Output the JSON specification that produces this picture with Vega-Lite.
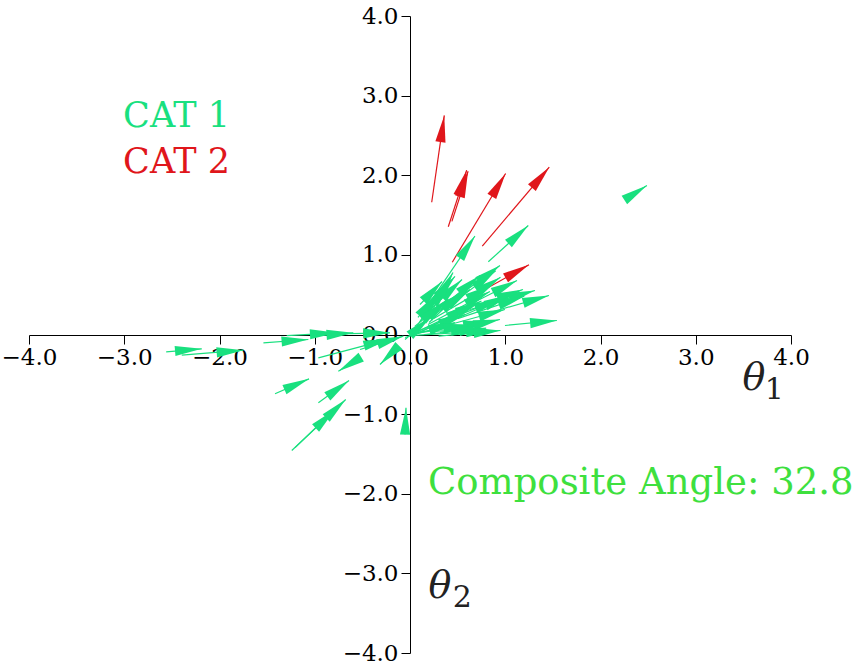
{
  "$schema": "https://vega.github.io/schema/vega-lite/v6.json",
  "autosize": {"type": "none"},
  "width": 762,
  "height": 637,
  "padding": {"left": 29, "top": 16, "right": 70, "bottom": 12},
  "background": "white",
  "config": {
    "view": {"stroke": null},
    "axisX": {"grid": false, "offset": -318, "labelFlush": false, "labelOverlap": false,
      "labelFont": "DejaVu Serif", "labelFontSize": 23, "labelColor": "black",
      "tickColor": "black", "domainColor": "black", "tickSize": 9, "labelPadding": 2, "format": ".1f"},
    "axisY": {"grid": false, "offset": -381, "labelFlush": false, "labelOverlap": false,
      "labelFont": "DejaVu Serif", "labelFontSize": 23, "labelColor": "black",
      "tickColor": "black", "domainColor": "black", "tickSize": 9, "labelPadding": 3, "format": ".1f"}
  },
  "datasets": {
    "arrows": [
      {"cat": "CAT 1", "x0": 2.277, "y0": 1.709, "x1": 2.487, "y1": 1.872},
      {"cat": "CAT 1", "x0": 0.822, "y0": 0.913, "x1": 1.242, "y1": 1.369},
      {"cat": "CAT 1", "x0": 0.15, "y0": 0.30, "x1": 0.682, "y1": 1.237},
      {"cat": "CAT 1", "x0": 0.052, "y0": 0.063, "x1": 0.315, "y1": 0.565},
      {"cat": "CAT 1", "x0": 0.105, "y0": 0.163, "x1": 0.420, "y1": 0.653},
      {"cat": "CAT 1", "x0": 0.157, "y0": 0.251, "x1": 0.546, "y1": 0.691},
      {"cat": "CAT 1", "x0": 0.210, "y0": 0.214, "x1": 0.630, "y1": 0.565},
      {"cat": "CAT 1", "x0": 0.315, "y0": 0.314, "x1": 0.944, "y1": 0.867},
      {"cat": "CAT 1", "x0": 0.367, "y0": 0.377, "x1": 0.735, "y1": 0.741},
      {"cat": "CAT 1", "x0": 0.262, "y0": 0.440, "x1": 0.472, "y1": 0.729},
      {"cat": "CAT 1", "x0": 0.105, "y0": 0.377, "x1": 0.336, "y1": 0.666},
      {"cat": "CAT 1", "x0": 0.189, "y0": 0.126, "x1": 0.839, "y1": 0.540},
      {"cat": "CAT 1", "x0": 0.420, "y0": 0.251, "x1": 1.123, "y1": 0.678},
      {"cat": "CAT 1", "x0": 0.630, "y0": 0.314, "x1": 1.312, "y1": 0.553},
      {"cat": "CAT 1", "x0": 0.839, "y0": 0.276, "x1": 1.459, "y1": 0.490},
      {"cat": "CAT 1", "x0": 0.735, "y0": 0.377, "x1": 1.186, "y1": 0.565},
      {"cat": "CAT 1", "x0": 0.105, "y0": 0.025, "x1": 0.651, "y1": 0.377},
      {"cat": "CAT 1", "x0": 0.052, "y0": 0.013, "x1": 0.577, "y1": 0.251},
      {"cat": "CAT 1", "x0": 0.021, "y0": 0.013, "x1": 0.839, "y1": 0.163},
      {"cat": "CAT 1", "x0": 0.000, "y0": -0.013, "x1": 0.871, "y1": 0.050},
      {"cat": "CAT 1", "x0": 0.210, "y0": 0.038, "x1": 0.714, "y1": 0.063},
      {"cat": "CAT 1", "x0": 0.315, "y0": 0.025, "x1": 0.944, "y1": 0.188},
      {"cat": "CAT 1", "x0": -0.052, "y0": -0.038, "x1": 0.472, "y1": 0.151},
      {"cat": "CAT 1", "x0": 0.000, "y0": 0.000, "x1": 0.630, "y1": 0.126},
      {"cat": "CAT 1", "x0": 0.997, "y0": 0.113, "x1": 1.542, "y1": 0.176},
      {"cat": "CAT 1", "x0": 0.420, "y0": 0.126, "x1": 0.997, "y1": 0.314},
      {"cat": "CAT 1", "x0": -0.052, "y0": -0.063, "x1": 0.210, "y1": 0.214},
      {"cat": "CAT 1", "x0": 0.210, "y0": 0.251, "x1": 0.451, "y1": 0.779},
      {"cat": "CAT 1", "x0": 0.084, "y0": 0.214, "x1": 0.273, "y1": 0.503},
      {"cat": "CAT 1", "x0": 0.050, "y0": 0.020, "x1": 0.750, "y1": 0.420},
      {"cat": "CAT 1", "x0": 0.100, "y0": 0.050, "x1": 0.950, "y1": 0.450},
      {"cat": "CAT 1", "x0": 0.300, "y0": 0.100, "x1": 1.050, "y1": 0.500},
      {"cat": "CAT 1", "x0": 0.200, "y0": 0.150, "x1": 0.550, "y1": 0.550},
      {"cat": "CAT 1", "x0": 0.000, "y0": 0.000, "x1": 0.400, "y1": 0.450},
      {"cat": "CAT 1", "x0": 0.250, "y0": 0.200, "x1": 0.850, "y1": 0.620},
      {"cat": "CAT 1", "x0": 0.500, "y0": 0.200, "x1": 1.200, "y1": 0.480},
      {"cat": "CAT 1", "x0": 0.150, "y0": 0.000, "x1": 0.800, "y1": 0.080},
      {"cat": "CAT 1", "x0": 0.300, "y0": -0.020, "x1": 0.950, "y1": 0.050},
      {"cat": "CAT 1", "x0": 0.050, "y0": 0.100, "x1": 0.350, "y1": 0.400},
      {"cat": "CAT 1", "x0": 0.400, "y0": 0.350, "x1": 0.900, "y1": 0.800},
      {"cat": "CAT 1", "x0": 0.600, "y0": 0.450, "x1": 0.950, "y1": 0.720},
      {"cat": "CAT 1", "x0": -2.560, "y0": -0.217, "x1": -2.186, "y1": -0.180},
      {"cat": "CAT 1", "x0": -2.396, "y0": -0.260, "x1": -1.749, "y1": -0.197},
      {"cat": "CAT 1", "x0": -1.539, "y0": -0.105, "x1": -1.067, "y1": -0.063},
      {"cat": "CAT 1", "x0": -1.294, "y0": -0.013, "x1": -0.769, "y1": 0.021},
      {"cat": "CAT 1", "x0": -0.979, "y0": -0.013, "x1": -0.595, "y1": 0.021},
      {"cat": "CAT 1", "x0": -0.769, "y0": 0.009, "x1": -0.210, "y1": 0.021},
      {"cat": "CAT 1", "x0": -0.962, "y0": -0.293, "x1": -0.210, "y1": -0.054},
      {"cat": "CAT 1", "x0": -0.525, "y0": -0.188, "x1": -0.070, "y1": -0.021},
      {"cat": "CAT 1", "x0": -0.525, "y0": -0.293, "x1": -0.752, "y1": -0.461},
      {"cat": "CAT 1", "x0": -0.123, "y0": -0.147, "x1": -0.315, "y1": -0.377},
      {"cat": "CAT 1", "x0": -1.417, "y0": -0.745, "x1": -1.060, "y1": -0.557},
      {"cat": "CAT 1", "x0": -0.962, "y0": -0.858, "x1": -0.640, "y1": -0.578},
      {"cat": "CAT 1", "x0": -1.241, "y0": -1.457, "x1": -0.675, "y1": -0.817},
      {"cat": "CAT 1", "x0": -1.207, "y0": -1.420, "x1": -0.787, "y1": -0.942},
      {"cat": "CAT 1", "x0": -0.052, "y0": -1.256, "x1": -0.042, "y1": -0.921},
      {"cat": "CAT 2", "x0": 0.228, "y0": 1.661, "x1": 0.360, "y1": 2.751},
      {"cat": "CAT 2", "x0": 0.402, "y0": 1.353, "x1": 0.595, "y1": 2.064},
      {"cat": "CAT 2", "x0": 0.440, "y0": 1.420, "x1": 0.610, "y1": 2.050},
      {"cat": "CAT 2", "x0": 0.444, "y0": 0.908, "x1": 1.004, "y1": 2.022},
      {"cat": "CAT 2", "x0": 0.759, "y0": 1.110, "x1": 1.462, "y1": 2.102},
      {"cat": "CAT 2", "x0": 0.648, "y0": 0.474, "x1": 1.249, "y1": 0.876}
    ],
    "labels": [
      {"t": "CAT 1", "x": -3.012, "y": 2.739, "c": "CAT 1"},
      {"t": "CAT 2", "x": -3.012, "y": 2.161, "c": "CAT 2"}
    ],
    "thetas": [
      {"t": "θ", "x": 3.61, "y": -0.565},
      {"t": "θ", "x": 0.315, "y": -3.166}
    ],
    "subs": [
      {"t": "1", "x": 3.825, "y": -0.70},
      {"t": "2", "x": 0.55, "y": -3.31}
    ],
    "note": [
      {"t": "Composite Angle: 32.8", "x": 0.189, "y": -1.859}
    ]
  },
  "layer": [
    {
      "data": {"name": "arrows"},
      "mark": {"type": "rule", "strokeWidth": 1.2},
      "encoding": {
        "x": {"field": "x0", "type": "quantitative",
          "scale": {"domain": [-4, 4], "nice": false, "zero": false},
          "axis": {"values": [-4, -3, -2, -1, 0, 1, 2, 3, 4], "title": null}},
        "y": {"field": "y0", "type": "quantitative",
          "scale": {"domain": [-4, 4], "nice": false, "zero": false},
          "axis": {"values": [-4, -3, -2, -1, 0, 1, 2, 3, 4], "title": null}},
        "x2": {"field": "x1"},
        "y2": {"field": "y1"},
        "color": {"field": "cat", "type": "nominal",
          "scale": {"domain": ["CAT 1", "CAT 2"], "range": ["#19e07f", "#e0161b"]}, "legend": null}
      }
    },
    {
      "data": {"name": "arrows"},
      "transform": [
        {"calculate": "atan2((datum.x1 - datum.x0) * 95.25, (datum.y1 - datum.y0) * 79.625) * 180 / PI", "as": "ang"}
      ],
      "mark": {"type": "point", "filled": true, "opacity": 1, "strokeWidth": 0,
        "shape": "M0,0L-0.38,2L0.38,2Z", "size": 720},
      "encoding": {
        "x": {"field": "x1", "type": "quantitative", "scale": {"domain": [-4, 4], "nice": false, "zero": false},
          "axis": {"values": [-4, -3, -2, -1, 0, 1, 2, 3, 4], "title": null}},
        "y": {"field": "y1", "type": "quantitative", "scale": {"domain": [-4, 4], "nice": false, "zero": false},
          "axis": {"values": [-4, -3, -2, -1, 0, 1, 2, 3, 4], "title": null}},
        "angle": {"field": "ang", "type": "quantitative", "scale": null},
        "color": {"field": "cat", "type": "nominal",
          "scale": {"domain": ["CAT 1", "CAT 2"], "range": ["#19e07f", "#e0161b"]}, "legend": null}
      }
    },
    {
      "data": {"name": "labels"},
      "mark": {"type": "text", "font": "DejaVu Serif", "fontSize": 35, "align": "left", "baseline": "middle"},
      "encoding": {
        "x": {"field": "x", "type": "quantitative", "axis": {"values": [-4, -3, -2, -1, 0, 1, 2, 3, 4], "title": null}},
        "y": {"field": "y", "type": "quantitative", "axis": {"values": [-4, -3, -2, -1, 0, 1, 2, 3, 4], "title": null}},
        "text": {"field": "t"},
        "color": {"field": "c", "type": "nominal",
          "scale": {"domain": ["CAT 1", "CAT 2"], "range": ["#19e07f", "#e0161b"]}, "legend": null}
      }
    },
    {
      "data": {"name": "thetas"},
      "mark": {"type": "text", "font": "DejaVu Serif", "fontStyle": "italic", "fontSize": 38, "align": "center", "baseline": "middle", "color": "#222222"},
      "encoding": {
        "x": {"field": "x", "type": "quantitative", "axis": {"values": [-4, -3, -2, -1, 0, 1, 2, 3, 4], "title": null}},
        "y": {"field": "y", "type": "quantitative", "axis": {"values": [-4, -3, -2, -1, 0, 1, 2, 3, 4], "title": null}},
        "text": {"field": "t"}
      }
    },
    {
      "data": {"name": "subs"},
      "mark": {"type": "text", "font": "DejaVu Serif", "fontSize": 30, "align": "center", "baseline": "middle", "color": "#222222"},
      "encoding": {
        "x": {"field": "x", "type": "quantitative", "axis": {"values": [-4, -3, -2, -1, 0, 1, 2, 3, 4], "title": null}},
        "y": {"field": "y", "type": "quantitative", "axis": {"values": [-4, -3, -2, -1, 0, 1, 2, 3, 4], "title": null}},
        "text": {"field": "t"}
      }
    },
    {
      "data": {"name": "note"},
      "mark": {"type": "text", "font": "DejaVu Serif", "fontSize": 37, "align": "left", "baseline": "middle", "color": "#3ee03e"},
      "encoding": {
        "x": {"field": "x", "type": "quantitative", "axis": {"values": [-4, -3, -2, -1, 0, 1, 2, 3, 4], "title": null}},
        "y": {"field": "y", "type": "quantitative", "axis": {"values": [-4, -3, -2, -1, 0, 1, 2, 3, 4], "title": null}},
        "text": {"field": "t"}
      }
    }
  ]
}
